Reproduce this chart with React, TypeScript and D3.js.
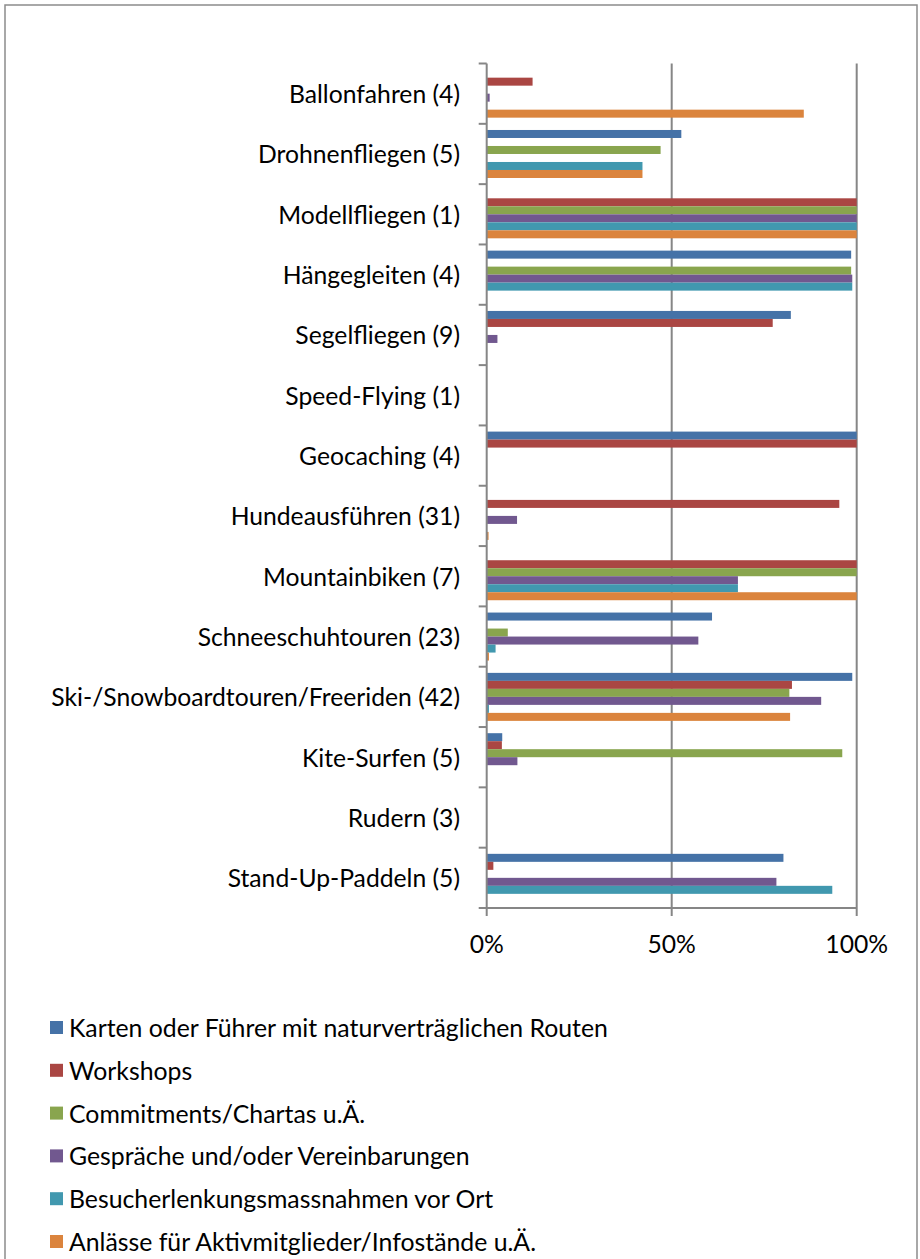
import React from "react";
import * as d3 from "d3";

const categories = [
  "Ballonfahren (4)",
  "Drohnenfliegen (5)",
  "Modellfliegen (1)",
  "Hängegleiten (4)",
  "Segelfliegen (9)",
  "Speed-Flying (1)",
  "Geocaching (4)",
  "Hundeausführen (31)",
  "Mountainbiken (7)",
  "Schneeschuhtouren (23)",
  "Ski-/Snowboardtouren/Freeriden (42)",
  "Kite-Surfen (5)",
  "Rudern (3)",
  "Stand-Up-Paddeln (5)",
];

const seriesNames = [
  "Karten oder Führer mit naturverträglichen Routen",
  "Workshops",
  "Commitments/Chartas u.Ä.",
  "Gespräche und/oder Vereinbarungen",
  "Besucherlenkungsmassnahmen vor Ort",
  "Anlässe für Aktivmitglieder/Infostände u.Ä.",
];

const colors = ["#4572A7", "#AA4643", "#89A54E", "#71588F", "#4198AF", "#DB843D"];

// values in %, one array per series, in category order
const karten = [0, 52.6, 0, 98.5, 82.2, 0, 100, 0, 0, 60.9, 98.8, 4.2, 0, 80.2];
const workshops = [12.4, 0, 100, 0, 77.3, 0, 100, 95.3, 100, 0, 82.5, 4.1, 0, 1.8];
const commitments = [0, 47.0, 100, 98.5, 0, 0, 0, 0, 100, 5.7, 81.8, 96.1, 0, 0];
const gespraeche = [0.8, 0, 100, 98.8, 2.9, 0, 0, 8.2, 67.9, 57.2, 90.4, 8.3, 0, 78.3];
const besucher = [0, 42.1, 100, 98.8, 0, 0, 0, 0, 67.9, 2.4, 0.6, 0, 0, 93.4];
const anlaesse = [85.7, 42.1, 100, 0, 0, 0, 0, 0.5, 100, 0.6, 82.0, 0, 0, 0];

const seriesValues = [karten, workshops, commitments, gespraeche, besucher, anlaesse];

const xTicks = [0, 50, 100];

const FONT = "Lato, 'Open Sans', sans-serif";
const AXIS = "#868686";

export default function App() {
  const W = 920;
  const H = 1259;
  const x = d3.scaleLinear().domain([0, 100]).range([486.7, 856.7]);
  const y = d3.scaleBand<string>().domain(categories).range([63.5, 908]).padding(0);
  const inner = d3
    .scaleBand<number>()
    .domain(d3.range(seriesNames.length))
    .range([0, y.bandwidth()])
    .paddingInner(0)
    .paddingOuter(0.77);

  const bandTicks = categories.map((c) => y(c)!).concat([y.range()[1]]);

  return (
    <svg
      width={W}
      height={H}
      style={{ position: "absolute", left: 0, top: 0, background: "#fff" }}
      fontFamily={FONT}
    >
      <rect x={0} y={0} width={W} height={H} fill="#fff" />
      {/* outer frame */}
      <path d={`M5,${H + 2} V5 H917 V${H + 2}`} fill="none" stroke="#8c8c8c" strokeWidth={1.5} />

      {/* gridlines */}
      {xTicks.slice(1).map((t) => (
        <line key={t} x1={x(t)} x2={x(t)} y1={y.range()[0]} y2={y.range()[1]} stroke={AXIS} strokeWidth={2} />
      ))}

      {/* bars */}
      {seriesValues.map((vals, si) =>
        vals.map((v, ci) =>
          v > 0 ? (
            <rect
              key={`${si}-${ci}`}
              x={x(0)}
              y={y(categories[ci])! + inner(si)!}
              width={x(v) - x(0)}
              height={inner.bandwidth()}
              fill={colors[si]}
            />
          ) : null
        )
      )}

      {/* vertical axis */}
      <line x1={x(0)} x2={x(0)} y1={y.range()[0]} y2={y.range()[1]} stroke={AXIS} strokeWidth={2} />
      {bandTicks.map((t, i) => (
        <line key={i} x1={x(0) - 8} x2={x(0)} y1={t} y2={t} stroke={AXIS} strokeWidth={2} />
      ))}
      {categories.map((c) => (
        <text
          key={c}
          x={460}
          y={y(c)! + y.bandwidth() / 2}
          textAnchor="end"
          dominantBaseline="central"
          fontSize={24.7}
          fill="#000"
        >
          {c}
        </text>
      ))}

      {/* horizontal axis */}
      <line x1={x(0)} x2={x(100)} y1={y.range()[1]} y2={y.range()[1]} stroke={AXIS} strokeWidth={2} />
      {xTicks.map((t) => (
        <g key={t}>
          <line x1={x(t)} x2={x(t)} y1={y.range()[1]} y2={y.range()[1] + 8} stroke={AXIS} strokeWidth={2} />
          <text x={x(t)} y={943} textAnchor="middle" dominantBaseline="central" fontSize={24.7} fill="#000">
            {`${t}%`}
          </text>
        </g>
      ))}

      {/* legend */}
      {seriesNames.map((s, i) => {
        const cy = 1027.5 + i * 42.8;
        return (
          <g key={s}>
            <rect x={50} y={cy - 6.5} width={13} height={13} fill={colors[i]} />
            <text x={69} y={cy} dominantBaseline="central" fontSize={24.8} fill="#000">
              {s}
            </text>
          </g>
        );
      })}
    </svg>
  );
}
